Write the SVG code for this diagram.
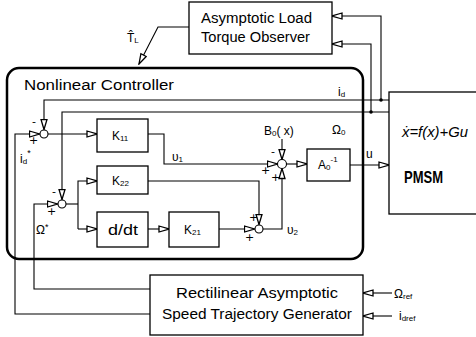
<svg xmlns="http://www.w3.org/2000/svg" width="476" height="337" viewBox="0 0 476 337">
<defs>
<style>
.b{fill:#fff;stroke:#000;stroke-width:1.3}
.c{fill:none;stroke:#000;stroke-width:1.1}
.t{font-family:"Liberation Sans",Arial,sans-serif;font-size:14px;fill:#000}
.s{font-family:"Liberation Sans",Arial,sans-serif;font-size:12px;fill:#000}
.sub{font-size:8px}
.sg{font-family:"DejaVu Sans",sans-serif;font-size:11px;fill:#000}
.j{fill:#fff;stroke:#000;stroke-width:1.1}
</style>
<marker id="a" markerWidth="12" markerHeight="8" refX="11" refY="4" orient="auto" markerUnits="userSpaceOnUse"><path d="M1,1 L11,4 L1,7 z" fill="#fff" stroke="#000" stroke-width="1.3"/></marker>
</defs>
<rect width="476" height="337" fill="#fff"/>

<g id="connectors" class="c">
<path d="M189,27 H158 L139,64" marker-end="url(#a)"/>
<path d="M389,100 H44 V129.5" marker-end="url(#a)"/>
<path d="M389,112 H62 V199.5" marker-end="url(#a)"/>
<path d="M381,100 V16 H332" marker-end="url(#a)"/>
<path d="M371,112 V44 H332" marker-end="url(#a)"/>
<path d="M150,314 H15 V134 H39.5" marker-end="url(#a)"/>
<path d="M150,289 H34 V204 H57.5" marker-end="url(#a)"/>
<path d="M48,134 H97" marker-end="url(#a)"/>
<path d="M66,204 H78"/>
<path d="M78,229 V181 H97" marker-end="url(#a)"/>
<path d="M78,229 H97" marker-end="url(#a)"/>
<path d="M148,229 H169" marker-end="url(#a)"/>
<path d="M219,229 H254.5" marker-end="url(#a)"/>
<path d="M148,181 H259 V224.5" marker-end="url(#a)"/>
<path d="M263,229 H282 V168.5" marker-end="url(#a)"/>
<path d="M148,134 H164 V164 H277.5" marker-end="url(#a)"/>
<path d="M282,139 V159.5" marker-end="url(#a)"/>
<path d="M286.5,164 H307" marker-end="url(#a)"/>
<path d="M350,165 H389" marker-end="url(#a)"/>
<path d="M392,293 H363" marker-end="url(#a)"/>
<path d="M392,316 H363" marker-end="url(#a)"/>
<circle cx="381" cy="100" r="1.8" fill="#000" stroke="none"/>
<circle cx="371" cy="112" r="1.8" fill="#000" stroke="none"/>
</g>

<g id="controller">
<rect x="7" y="68" width="356" height="191" rx="12" fill="none" stroke="#000" stroke-width="2.5"/>
<text class="t" x="24" y="90" textLength="150" lengthAdjust="spacingAndGlyphs">Nonlinear Controller</text>
</g>

<g id="observer">
<rect class="b" x="189" y="2" width="143" height="52"/>
<text class="t" x="201" y="23" textLength="111" lengthAdjust="spacingAndGlyphs">Asymptotic Load</text>
<text class="t" x="201" y="42" textLength="109" lengthAdjust="spacingAndGlyphs">Torque Observer</text>
</g>

<g id="generator">
<rect class="b" x="150" y="275" width="213" height="60"/>
<text class="t" x="176" y="298" textLength="162" lengthAdjust="spacingAndGlyphs">Rectilinear Asymptotic</text>
<text class="t" x="162" y="319" textLength="190" lengthAdjust="spacingAndGlyphs">Speed Trajectory Generator</text>
</g>

<g id="pmsm">
<rect class="b" x="389" y="92" width="100" height="122"/>
<text x="402" y="137" font-family="Liberation Sans, Arial, sans-serif" font-size="15" font-style="italic" textLength="66" lengthAdjust="spacingAndGlyphs">ẋ=f(x)+Gu</text>
<text x="404" y="183" font-family="Liberation Sans, Arial, sans-serif" font-size="17" font-weight="bold" textLength="39" lengthAdjust="spacingAndGlyphs">PMSM</text>
</g>

<g id="k11">
<rect class="b" x="97" y="119" width="51" height="33"/>
<text class="s" x="112" y="140">K<tspan class="sub" dy="1">11</tspan></text>
</g>
<g id="k22">
<rect class="b" x="97" y="166" width="51" height="28"/>
<text class="s" x="112" y="185">K<tspan class="sub" dy="1">22</tspan></text>
</g>
<g id="ddt">
<rect class="b" x="97" y="212" width="51" height="35"/>
<text class="t" x="108" y="235" textLength="30" lengthAdjust="spacingAndGlyphs">d/dt</text>
</g>
<g id="k21">
<rect class="b" x="169" y="212" width="50" height="35"/>
<text class="s" x="184" y="234">K<tspan class="sub" dy="1">21</tspan></text>
</g>
<g id="a0inv">
<rect class="b" x="307" y="149" width="43" height="32"/>
<text class="s" x="318" y="169">A<tspan class="sub" dy="1">0</tspan><tspan class="sub" dy="-8">-1</tspan></text>
</g>

<g id="sum1"><circle class="j" cx="44" cy="134" r="4"/></g>
<g id="sum2"><circle class="j" cx="62" cy="204" r="4"/></g>
<g id="sum3"><circle class="j" cx="259" cy="229" r="4"/></g>
<g id="sum4"><circle class="j" cx="282" cy="164" r="4.5"/></g>

<g id="labels">
<text class="s" x="127" y="42">T̂<tspan class="sub" dy="1">L</tspan></text>
<text class="s" x="264" y="135">B<tspan class="sub" dy="1">0</tspan><tspan dy="-1">( x)</tspan></text>
<text class="s" x="332" y="134">Ω<tspan class="sub" dy="1">0</tspan></text>
<text class="s" x="338" y="96">i<tspan class="sub" dy="1">d</tspan></text>
<text class="s" x="366" y="158">u</text>
<text class="s" x="172" y="161">υ<tspan class="sub" dy="1">1</tspan></text>
<text class="s" x="287" y="234">υ<tspan class="sub" dy="1">2</tspan></text>
<text class="s" x="20" y="163">i<tspan class="sub" dy="1">d</tspan><tspan font-size="9" dy="-8">*</tspan></text>
<text class="s" x="36" y="234">Ω<tspan font-size="9" dy="-4">*</tspan></text>
<text class="s" x="394" y="298">Ω<tspan class="sub" dy="1">ref</tspan></text>
<text class="s" x="399" y="320">i<tspan class="sub" dy="1">dref</tspan></text>
<text class="sg" x="32" y="125">-</text>
<text class="sg" x="29" y="144">+</text>
<text class="sg" x="52" y="195">-</text>
<text class="sg" x="47" y="215">+</text>
<text class="sg" x="249" y="221">+</text>
<text class="sg" x="245" y="241">+</text>
<text class="sg" x="271" y="155">-</text>
<text class="sg" x="261" y="174">+</text>
<text class="sg" x="271" y="181">+</text>
</g>
</svg>
